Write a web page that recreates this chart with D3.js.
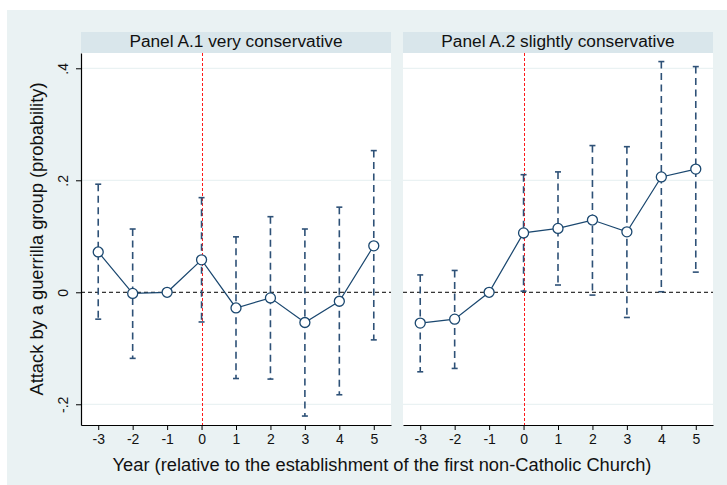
<!DOCTYPE html>
<html>
<head>
<meta charset="utf-8">
<script src="https://cdn.jsdelivr.net/npm/d3@7"></script>
<style>
  body { margin: 0; background: #fff; }
  text { font-family: "Liberation Sans", Arial, sans-serif; fill: #111; }
</style>
</head>
<body>
<div class="chartArea"></div>
<script>
let width = 727,
    height = 485

// event-time years
const years = [-3, -2, -1, 0, 1, 2, 3, 4, 5]

// Panel A.1 very conservative
const estA1 = [0.072, -0.002, 0, 0.058, -0.028, -0.010, -0.054, -0.016, 0.083]
const lowA1 = [-0.048, -0.118, null, -0.053, -0.154, -0.155, -0.221, -0.183, -0.085]
const hiA1  = [0.193, 0.113, null, 0.169, 0.099, 0.135, 0.113, 0.152, 0.253]

// Panel A.2 slightly conservative
const estA2 = [-0.055, -0.048, 0, 0.106, 0.114, 0.129, 0.108, 0.206, 0.220]
const lowA2 = [-0.142, -0.136, null, 0.002, 0.013, -0.005, -0.045, 0.001, 0.036]
const hiA2  = [0.031, 0.039, null, 0.210, 0.215, 0.262, 0.260, 0.412, 0.403]

const panelTitles = ['Panel A.1 very conservative', 'Panel A.2 slightly conservative']
const yTicks = [-0.2, 0, 0.2, 0.4]
const yTickLabels = ['-.2', '0', '.2', '.4']

const bg = '#eaf2f3',
      stripFill = '#d9e6eb',
      navy = '#1a476f',
      ciColor = '#2e5177'

const svg = d3.select('.chartArea')
    .append('svg')
    .attr('width', width)
    .attr('height', height)

// graph region
svg.append('rect')
    .attr('x', 7).attr('y', 10)
    .attr('width', width - 7).attr('height', height - 10)
    .attr('fill', bg)

const plotTop = 53, plotBottom = 425, stripTop = 32

const yScale = d3.scaleLinear()
    .domain([-0.237, 0.4273])
    .range([plotBottom, plotTop])

const panels = [
  {x0: 81, x1: 391, est: estA1, low: lowA1, hi: hiA1, title: panelTitles[0], yaxis: true},
  {x0: 403, x1: 713, est: estA2, low: lowA2, hi: hiA2, title: panelTitles[1], yaxis: false}
]

panels.forEach(p => {
  const xScale = d3.scaleLinear()
      .domain([-3.5, 5.5])
      .range([p.x0, p.x1])

  const g = svg.append('g')

  // title strip
  g.append('rect')
      .attr('x', p.x0).attr('y', stripTop)
      .attr('width', p.x1 - p.x0).attr('height', plotTop - stripTop)
      .attr('fill', stripFill)
  g.append('text')
      .attr('x', (p.x0 + p.x1) / 2).attr('y', stripTop + 15)
      .attr('text-anchor', 'middle')
      .attr('font-size', 17.3)
      .text(p.title)

  // plot area
  g.append('rect')
      .attr('x', p.x0).attr('y', plotTop)
      .attr('width', p.x1 - p.x0).attr('height', plotBottom - plotTop)
      .attr('fill', '#fff')

  // gridlines (not at zero)
  g.selectAll('.grid')
      .data(yTicks.filter(d => d !== 0))
      .enter().append('line')
      .attr('x1', p.x0).attr('x2', p.x1)
      .attr('y1', d => yScale(d)).attr('y2', d => yScale(d))
      .attr('stroke', bg).attr('stroke-width', 1.2)

  // zero reference line
  g.append('line')
      .attr('x1', p.x0).attr('x2', p.x1)
      .attr('y1', yScale(0)).attr('y2', yScale(0))
      .attr('stroke', '#000').attr('stroke-width', 1)
      .attr('stroke-dasharray', '4,3')

  // vertical red line at year 0
  const x0line = Math.round(xScale(0)) + 0.5
  g.append('line')
      .attr('x1', x0line).attr('x2', x0line)
      .attr('y1', plotTop).attr('y2', plotBottom)
      .attr('stroke', '#ff1a1a').attr('stroke-width', 1)
      .attr('stroke-dasharray', '3,2')

  const data = years.map((yr, i) => ({yr: yr, est: p.est[i], low: p.low[i], hi: p.hi[i]}))
  const ci = data.filter(d => d.low !== null)

  // confidence intervals
  g.selectAll('.ci')
      .data(ci)
      .enter().append('line')
      .attr('x1', d => xScale(d.yr)).attr('x2', d => xScale(d.yr))
      .attr('y1', d => yScale(d.hi)).attr('y2', d => yScale(d.low))
      .attr('stroke', ciColor).attr('stroke-width', 1.6)
      .attr('stroke-dasharray', '7,4.5')

  // caps
  ;['hi', 'low'].forEach(k => {
    g.selectAll('.cap-' + k)
        .data(ci)
        .enter().append('line')
        .attr('x1', d => xScale(d.yr) - 3).attr('x2', d => xScale(d.yr) + 3)
        .attr('y1', d => yScale(d[k])).attr('y2', d => yScale(d[k]))
        .attr('stroke', ciColor).attr('stroke-width', 1.6)
  })

  // connecting line
  const line = d3.line()
      .x(d => xScale(d.yr))
      .y(d => yScale(d.est))
  g.append('path')
      .datum(data)
      .attr('d', line)
      .attr('fill', 'none')
      .attr('stroke', navy).attr('stroke-width', 1.2)

  // markers
  g.selectAll('circle')
      .data(data)
      .enter().append('circle')
      .attr('cx', d => xScale(d.yr))
      .attr('cy', d => yScale(d.est))
      .attr('r', 5)
      .attr('fill', '#fff')
      .attr('stroke', navy).attr('stroke-width', 1.3)

  // x axis
  const xAxis = d3.axisBottom(xScale)
      .tickValues(years)
      .tickFormat(d => String(d))
      .tickSize(5)
      .tickSizeOuter(0)
      .tickPadding(4)
  const xg = g.append('g')
      .attr('transform', `translate(0, ${plotBottom})`)
      .call(xAxis)
  xg.select('.domain').attr('stroke', '#000').attr('stroke-width', 1.2)
  xg.selectAll('.tick line').attr('stroke', '#000')
  xg.selectAll('.tick text')
      .attr('font-size', 14)
      .attr('fill', '#111')
      .style('font-family', '"Liberation Sans", Arial, sans-serif')

  // y axis (left panel only)
  if (p.yaxis) {
    const yAxis = d3.axisLeft(yScale)
        .tickValues(yTicks)
        .tickFormat((d, i) => yTickLabels[i])
        .tickSize(5)
        .tickSizeOuter(0)
    const yg = g.append('g')
        .attr('transform', `translate(${p.x0}, 0)`)
        .call(yAxis)
    yg.select('.domain').attr('stroke', '#000').attr('stroke-width', 1.2)
    yg.selectAll('.tick line').attr('stroke', '#000')
    yg.selectAll('.tick text')
        .attr('x', null).attr('dy', null)
        .attr('transform', 'translate(-13, 0) rotate(-90)')
        .attr('text-anchor', 'middle')
        .attr('font-size', 14)
        .attr('fill', '#111')
        .style('font-family', '"Liberation Sans", Arial, sans-serif')
  }
})

// axis titles
svg.append('text')
    .attr('x', 382).attr('y', 471)
    .attr('text-anchor', 'middle')
    .attr('font-size', 18.3)
    .text('Year (relative to the establishment of the first non-Catholic Church)')

svg.append('text')
    .attr('transform', `translate(43, ${(plotTop + plotBottom) / 2}) rotate(-90)`)
    .attr('text-anchor', 'middle')
    .attr('font-size', 18.3)
    .text('Attack by a guerrilla group (probability)')
</script>
</body>
</html>
